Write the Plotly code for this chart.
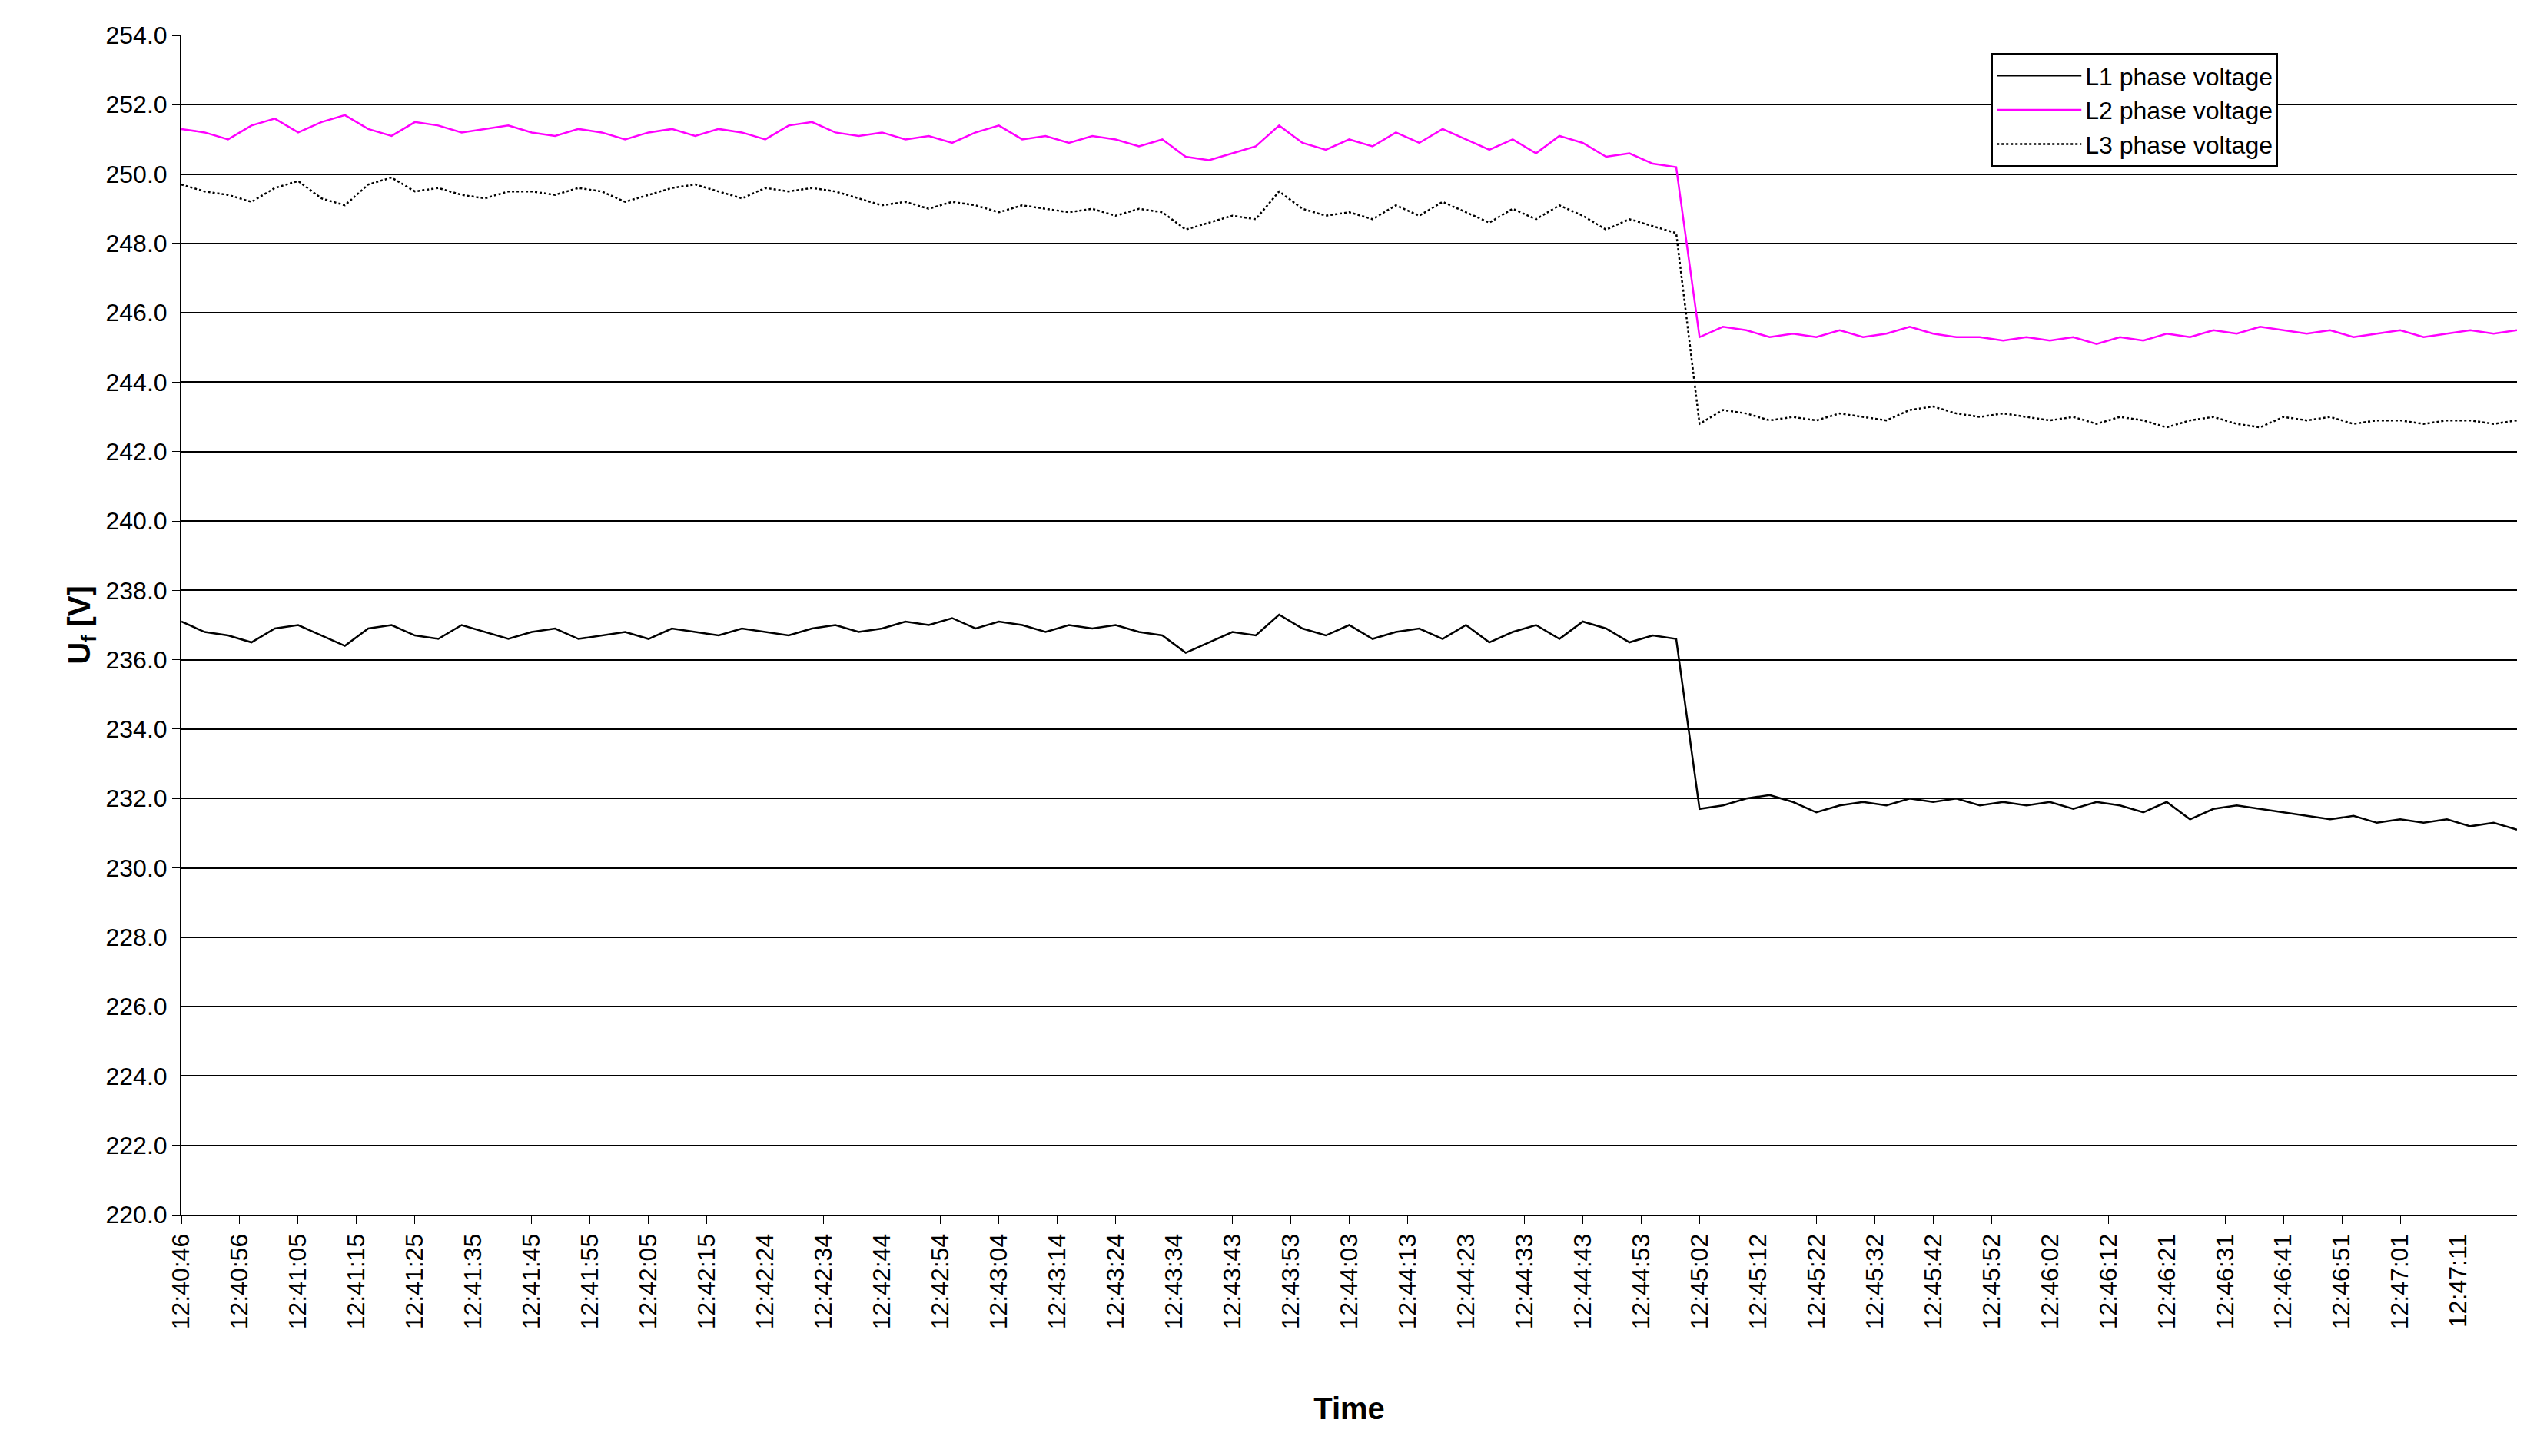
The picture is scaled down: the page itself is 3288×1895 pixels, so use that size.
import plotly.graph_objects as go

tick_labels = ["12:40:46","12:40:56","12:41:05","12:41:15","12:41:25","12:41:35","12:41:45","12:41:55",
"12:42:05","12:42:15","12:42:24","12:42:34","12:42:44","12:42:54","12:43:04","12:43:14","12:43:24",
"12:43:34","12:43:43","12:43:53","12:44:03","12:44:13","12:44:23","12:44:33","12:44:43","12:44:53",
"12:45:02","12:45:12","12:45:22","12:45:32","12:45:42","12:45:52","12:46:02","12:46:12","12:46:21",
"12:46:31","12:46:41","12:46:51","12:47:01","12:47:11"]

l1 = [237.1,236.8,236.7,236.5,236.9,237.0,236.7,236.4,
236.9,237.0,236.7,236.6,237.0,236.8,236.6,236.8,
236.9,236.6,236.7,236.8,236.6,236.9,236.8,236.7,
236.9,236.8,236.7,236.9,237.0,236.8,236.9,237.1,
237.0,237.2,236.9,237.1,237.0,236.8,237.0,236.9,
237.0,236.8,236.7,236.2,236.5,236.8,236.7,237.3,
236.9,236.7,237.0,236.6,236.8,236.9,236.6,237.0,
236.5,236.8,237.0,236.6,237.1,236.9,236.5,236.7,
236.6,231.7,231.8,232.0,232.1,231.9,231.6,231.8,
231.9,231.8,232.0,231.9,232.0,231.8,231.9,231.8,
231.9,231.7,231.9,231.8,231.6,231.9,231.4,231.7,
231.8,231.7,231.6,231.5,231.4,231.5,231.3,231.4,
231.3,231.4,231.2,231.3,231.1]
l2 = [251.3,251.2,251.0,251.4,251.6,251.2,251.5,251.7,
251.3,251.1,251.5,251.4,251.2,251.3,251.4,251.2,
251.1,251.3,251.2,251.0,251.2,251.3,251.1,251.3,
251.2,251.0,251.4,251.5,251.2,251.1,251.2,251.0,
251.1,250.9,251.2,251.4,251.0,251.1,250.9,251.1,
251.0,250.8,251.0,250.5,250.4,250.6,250.8,251.4,
250.9,250.7,251.0,250.8,251.2,250.9,251.3,251.0,
250.7,251.0,250.6,251.1,250.9,250.5,250.6,250.3,
250.2,245.3,245.6,245.5,245.3,245.4,245.3,245.5,
245.3,245.4,245.6,245.4,245.3,245.3,245.2,245.3,
245.2,245.3,245.1,245.3,245.2,245.4,245.3,245.5,
245.4,245.6,245.5,245.4,245.5,245.3,245.4,245.5,
245.3,245.4,245.5,245.4,245.5]
l3 = [249.7,249.5,249.4,249.2,249.6,249.8,249.3,249.1,
249.7,249.9,249.5,249.6,249.4,249.3,249.5,249.5,
249.4,249.6,249.5,249.2,249.4,249.6,249.7,249.5,
249.3,249.6,249.5,249.6,249.5,249.3,249.1,249.2,
249.0,249.2,249.1,248.9,249.1,249.0,248.9,249.0,
248.8,249.0,248.9,248.4,248.6,248.8,248.7,249.5,
249.0,248.8,248.9,248.7,249.1,248.8,249.2,248.9,
248.6,249.0,248.7,249.1,248.8,248.4,248.7,248.5,
248.3,242.8,243.2,243.1,242.9,243.0,242.9,243.1,
243.0,242.9,243.2,243.3,243.1,243.0,243.1,243.0,
242.9,243.0,242.8,243.0,242.9,242.7,242.9,243.0,
242.8,242.7,243.0,242.9,243.0,242.8,242.9,242.9,
242.8,242.9,242.9,242.8,242.9]

x = [4 * i for i in range(len(l1))]
fig = go.Figure()
fig.add_trace(go.Scatter(x=x, y=l1, mode="lines", name="L1 phase voltage", line=dict(color="black", width=2.5)))
fig.add_trace(go.Scatter(x=x, y=l2, mode="lines", name="L2 phase voltage", line=dict(color="#ff00ff", width=2.5)))
fig.add_trace(go.Scatter(x=x, y=l3, mode="lines", name="L3 phase voltage", line=dict(color="black", width=2.5, dash="dot")))

font = "Liberation Sans, Arial, sans-serif"
fig.update_layout(
    width=3288, height=1895, paper_bgcolor="white", plot_bgcolor="white",
    margin=dict(l=228, r=21, t=38, b=322),
    font=dict(family=font, size=32, color="black"),
    legend=dict(x=0.775, y=0.985, xanchor="left", yanchor="top", bordercolor="black", borderwidth=2,
                bgcolor="white", font=dict(size=32), itemwidth=110, tracegroupgap=12),
    xaxis=dict(range=[0, 400], tickmode="array", tickvals=[10 * i for i in range(len(tick_labels))],
               ticktext=tick_labels, tickangle=-90, showgrid=False, showline=True, linecolor="black",
               linewidth=2, ticks="outside", ticklen=10, tickcolor="black", mirror=False,
               title=dict(text="<b>Time</b>", font=dict(size=40), standoff=90), zeroline=False),
    yaxis=dict(range=[220, 254], dtick=2, tickformat=".1f", showgrid=True, gridcolor="black", gridwidth=2,
               showline=True, linecolor="black", linewidth=2, ticks="outside", ticklen=10, tickcolor="black",
               title=dict(text="<b>U<sub>f</sub> [V]</b>", font=dict(size=40), standoff=8), zeroline=False),
)
fig.write_html("out.html")
